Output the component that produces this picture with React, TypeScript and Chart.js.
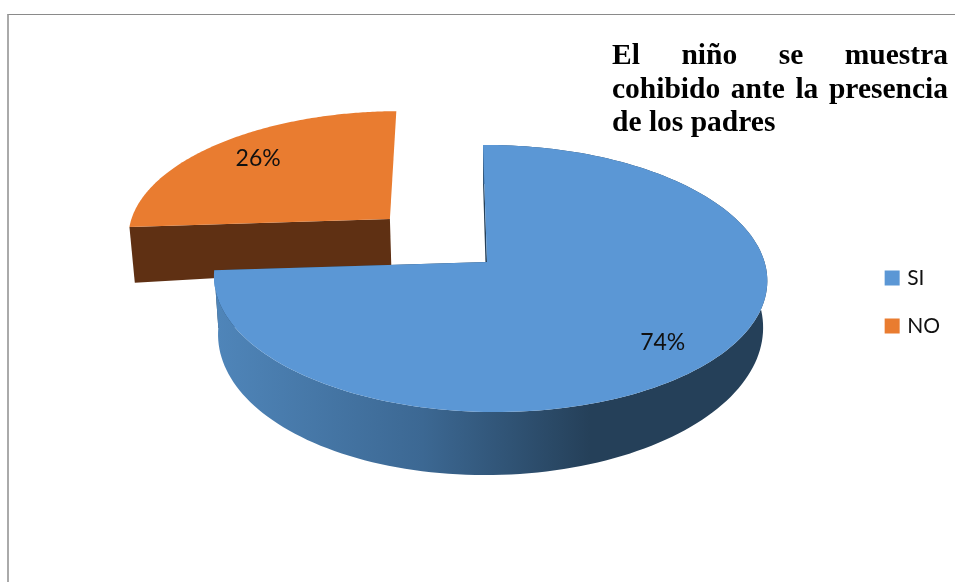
import React, { useEffect, useRef } from "react";
import { Chart, registerables } from "chart.js";

Chart.register(...registerables);

const categories = ["SI", "NO"];
const values = [74, 26];
const sliceColors = ["#5B97D5", "#E97C30"];
const wallColors = ["#254059", "#5F3013"];
const explode = [0, 0.5];
const labelRadius = [0.83, 0.77];
const titleLines = ["El niño se muestra", "cohibido ante la presencia", "de los padres"];

// projective view of the pie's ground plane
const VIEW = { x0: 487, y0: 262, R: 274.5, Rs: 131.5, k: 0.1236, m: 0.011, shear: 4.5, tilt: 0 };
const LABEL_NUDGE = [[-7, 0], [2, -1]];

function project(x: number, y: number) {
  const w = 1 - VIEW.k * y - VIEW.m * x;
  return {
    X: VIEW.x0 + (VIEW.R * x + VIEW.shear * y) / w,
    Y: VIEW.y0 + (VIEW.Rs * y + VIEW.tilt * x) / w,
  };
}

function projectLow(x: number, y: number) {
  const p = project(x, y);
  return {
    X: VIEW.x0 + (p.X - VIEW.x0) * 0.985,
    Y: p.Y + 51 + 12 * y - 6 * x,
  };
}

const pie3d = {
  id: "pie3d",
  beforeDatasetsDraw(chart: any) {
    const ctx = chart.ctx;
    const arcs = chart.getDatasetMeta(0).data as any[];
    const total = values.reduce((a, b) => a + b, 0);
    const order = arcs.map((_, i) => i).reverse();
    const trace = (pts: { X: number; Y: number }[]) => {
      ctx.beginPath();
      pts.forEach((p, i) => (i ? ctx.lineTo(p.X, p.Y) : ctx.moveTo(p.X, p.Y)));
      ctx.closePath();
      ctx.fill();
    };
    for (const i of order) {
      const { startAngle, endAngle } = arcs[i].getProps(["startAngle", "endAngle"], true);
      const mid = (startAngle + endAngle) / 2;
      const ox = Math.cos(mid) * explode[i];
      const oy = Math.sin(mid) * explode[i];
      const n = 160;
      const rim: [number, number][] = [];
      for (let s = 0; s <= n; s++) {
        const a = startAngle + ((endAngle - startAngle) * s) / n;
        rim.push([ox + Math.cos(a), oy + Math.sin(a)]);
      }
      const first = rim[0];
      const last = rim[n];
      // radial walls: the exploded slice only shows its front wall
      ctx.fillStyle = wallColors[i];
      trace([project(ox, oy), project(first[0], first[1]), projectLow(first[0], first[1]), projectLow(ox, oy)]);
      if (i === 0) {
        trace([project(ox, oy), project(last[0], last[1]), projectLow(last[0], last[1]), projectLow(ox, oy)]);
        const g = ctx.createLinearGradient(217, 0, 590, 0);
        g.addColorStop(0, "#4F85B9");
        g.addColorStop(0.55, "#3C6893");
        g.addColorStop(1, wallColors[0]);
        ctx.fillStyle = g;
        trace([
          ...rim.map(([x, y]) => project(x, y)),
          ...rim.slice().reverse().map(([x, y]) => projectLow(x, y)),
        ]);
      }
      // top face
      ctx.fillStyle = sliceColors[i];
      trace([project(ox, oy), ...rim.map(([x, y]) => project(x, y))]);
    }
    // percentage labels
    ctx.fillStyle = "#111111";
    ctx.font = "23px Lato";
    ctx.textAlign = "center";
    ctx.textBaseline = "middle";
    arcs.forEach((arc, i) => {
      const { startAngle, endAngle } = arc.getProps(["startAngle", "endAngle"], true);
      const mid = (startAngle + endAngle) / 2;
      const r = labelRadius[i] + explode[i];
      const p = project(Math.cos(mid) * r, Math.sin(mid) * r);
      ctx.fillText(`${Math.round((values[i] / total) * 100)}%`, p.X + LABEL_NUDGE[i][0], p.Y + LABEL_NUDGE[i][1]);
    });
    return false;
  },
};

export default function App() {
  const ref = useRef<HTMLCanvasElement>(null);
  useEffect(() => {
    const chart = new Chart(ref.current!, {
      type: "pie",
      data: {
        labels: categories,
        datasets: [{ data: values, backgroundColor: sliceColors, borderWidth: 0 }],
      },
      options: {
        animation: false,
        responsive: false,
        events: [],
        layout: { padding: { top: 22, right: 5 } },
        plugins: {
          tooltip: { enabled: false },
          title: { display: false },
          legend: {
            display: true,
            position: "right",
            labels: {
              usePointStyle: true,
              pointStyle: "rect",
              boxWidth: 9,
              boxHeight: 15,
              padding: 27,
              color: "#111111",
              font: { family: "Lato", size: 21 },
            },
          },
        },
      },
      plugins: [pie3d],
    } as any);
    return () => chart.destroy();
  }, []);
  return (
    <div style={{ position: "absolute", left: 0, top: 0, width: 955, height: 582, overflow: "hidden", background: "#fff" }}>
      <canvas ref={ref} width={955} height={582} style={{ position: "absolute", left: 0, top: 0 }} />
      <div style={{ position: "absolute", left: 7, top: 14, right: 0, bottom: 0, borderTop: "1px solid #8a8a8a", borderLeft: "2px solid #aaaaaa" }} />
      <div style={{ position: "absolute", left: 612, top: 38, width: 336, font: "bold 29.5px/33.5px 'Liberation Serif'", color: "#000" }}>
        {titleLines.map((line, i) => (
          <div key={i} style={{ textAlign: "justify", textAlignLast: i < 2 ? "justify" : "left" }}>{line}</div>
        ))}
      </div>
    </div>
  );
}
